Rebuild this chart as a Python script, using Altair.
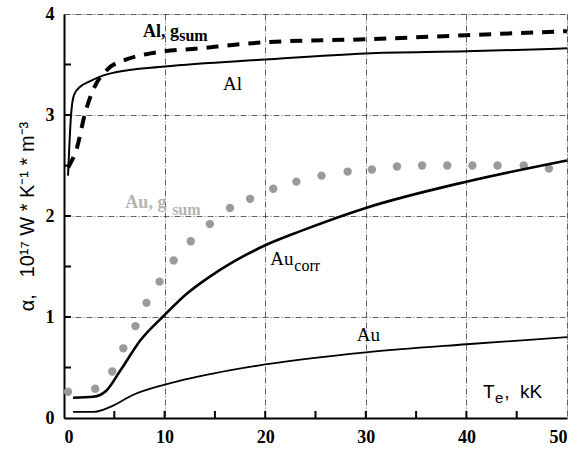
import altair as alt
import pandas as pd

# ---- data ----
al_x = [0.4, 0.7, 1.0, 1.6, 2.5, 3.6, 5, 10, 20, 30, 40, 50]
al_y = [2.40, 3.00, 3.20, 3.28, 3.33, 3.38, 3.42, 3.48, 3.55, 3.61, 3.63, 3.66]

alg_x = [0.4, 1.3, 2.1, 2.9, 4.3, 6.2, 8.6, 13.5, 20, 30, 40, 50]
alg_y = [2.48, 2.68, 3.02, 3.25, 3.45, 3.55, 3.61, 3.66, 3.72, 3.75, 3.79, 3.83]

aug_x = [0.4, 3.1, 4.8, 5.9, 7.1, 8.2, 9.5, 10.9, 12.6, 14.5, 16.5, 18.5, 20.8,
         23.1, 25.6, 28.2, 30.6, 33.1, 35.6, 38.1, 40.6, 43.1, 45.7, 48.2]
aug_y = [0.26, 0.29, 0.46, 0.69, 0.91, 1.14, 1.35, 1.56, 1.75, 1.92, 2.08, 2.17, 2.27,
         2.34, 2.40, 2.44, 2.46, 2.49, 2.50, 2.50, 2.50, 2.50, 2.50, 2.47]

auc_x = [0.9, 2.9, 4.2, 5.6, 7.6, 10, 12.2, 14.5, 16.9, 20, 23.5, 30, 40, 50]
auc_y = [0.20, 0.21, 0.27, 0.47, 0.77, 1.02, 1.23, 1.40, 1.55, 1.71, 1.85, 2.08, 2.34, 2.55]

au_x = [0.9, 2.9, 4.6, 6.9, 10, 14.8, 20, 30, 40, 50]
au_y = [0.06, 0.06, 0.11, 0.23, 0.33, 0.44, 0.53, 0.65, 0.73, 0.80]

x_major = [0, 10, 20, 30, 40, 50]
y_major = [0, 1, 2, 3, 4]
x_ticks = [5, 10, 15, 20, 25, 30, 35, 40, 45]
y_ticks = [0.5, 1, 1.5, 2, 2.5, 3, 3.5]

# annotation texts and anchor points (data coordinates)
lab_text = ["Al, g", "sum", "Al", "Au, g", "sum", "Au", "corr", "Au", "T", "e", ",\u00a0\u00a0kK"]
lab_x = [7.85, 11.45, 15.8, 6.1, 10.75, 20.5, 22.9, 29.1, 41.65, 42.85, 43.75]
lab_y = [3.77, 3.73, 3.25, 2.08, 2.01, 1.51, 1.46, 0.76, 0.20, 0.15, 0.20]
lab_size = [18, 16, 19, 18, 16, 19, 16, 19, 19, 15, 19]
lab_font = ["Liberation Serif"] * 8 + ["Liberation Sans"] * 3
lab_weight = ["bold", "bold", "normal", "bold", "bold", "normal", "normal", "normal",
              "normal", "normal", "normal"]
lab_color = ["#000", "#000", "#000", "#b4b4b4", "#b4b4b4", "#000", "#000", "#000",
             "#000", "#000", "#000"]

W, H = 503, 404
xs = alt.Scale(domain=[0, 50], nice=False, zero=False)
ys = alt.Scale(domain=[0, 4], nice=False, zero=False)

base_x = alt.X("x:Q", scale=xs, title=None,
               axis=alt.Axis(values=x_major, format="d", grid=True, gridDash=[6, 2, 1, 2],
                             gridColor="#222", gridWidth=0.7, ticks=False,
                             labelFont="Liberation Serif", labelFontWeight="bold",
                             labelFontSize=18, labelColor="#000", labelPadding=10,
                             domainColor="#000", domainWidth=2))
base_y = alt.Y("y:Q", scale=ys,
               title="α,\u00a0\u00a0 10¹⁷ W * K⁻¹ * m⁻³",
               axis=alt.Axis(values=y_major, format="d", grid=True, gridDash=[6, 2, 1, 2],
                             gridColor="#222", gridWidth=0.7, ticks=False,
                             labelFont="Liberation Serif", labelFontWeight="bold",
                             labelFontSize=18, labelColor="#000", labelPadding=10,
                             domainColor="#000", domainWidth=2,
                             titleFont="Liberation Sans", titleFontSize=20,
                             titleFontWeight="normal", titleColor="#000",
                             titlePadding=8))

def df(x, y):
    return pd.DataFrame({"x": x, "y": y})

X = alt.X("x:Q", scale=xs)
Y = alt.Y("y:Q", scale=ys)

grid_layer = alt.Chart(df([0], [0])).mark_point(opacity=0).encode(x=base_x, y=base_y)

al = alt.Chart(df(al_x, al_y)).mark_line(color="#000", strokeWidth=2, interpolate="monotone").encode(x=X, y=Y)
alg = alt.Chart(df(alg_x, alg_y)).mark_line(color="#000", strokeWidth=4, strokeDash=[12, 9],
                                            interpolate="monotone").encode(x=X, y=Y)
aug = alt.Chart(df(aug_x, aug_y)).mark_circle(color="#9a9a9a", size=70, opacity=1).encode(x=X, y=Y)
auc = alt.Chart(df(auc_x, auc_y)).mark_line(color="#000", strokeWidth=2.6, interpolate="monotone").encode(x=X, y=Y)
au = alt.Chart(df(au_x, au_y)).mark_line(color="#000", strokeWidth=1.8, interpolate="monotone").encode(x=X, y=Y)

xt = alt.Chart(pd.DataFrame({"x": x_ticks})).mark_rule(color="#000", strokeWidth=2).encode(
    x=X, y=alt.value(H), y2=alt.value(H - 7))
yt = alt.Chart(pd.DataFrame({"y": y_ticks})).mark_rule(color="#000", strokeWidth=2).encode(
    y=Y, x=alt.value(0), x2=alt.value(7))

text_layers = []
for i in range(len(lab_text)):
    row = pd.DataFrame({"t": [lab_text[i]], "x": [lab_x[i]], "y": [lab_y[i]]})
    text_layers.append(alt.Chart(row).mark_text(
        align="left", baseline="alphabetic", fontSize=lab_size[i],
        font=lab_font[i], fontWeight=lab_weight[i], color=lab_color[i]
    ).encode(x=X, y=Y, text="t:N"))

chart = alt.layer(grid_layer, xt, yt, aug, au, auc, al, alg, *text_layers).properties(
    width=W, height=H,
    autosize=alt.AutoSizeParams(type="none"),
    padding={"left": 64, "top": 14, "right": 10, "bottom": 41},
).configure_view(stroke="#000", strokeWidth=1).configure(background="white")

chart.save("out.html", embed_options={"renderer": "svg", "actions": False})
